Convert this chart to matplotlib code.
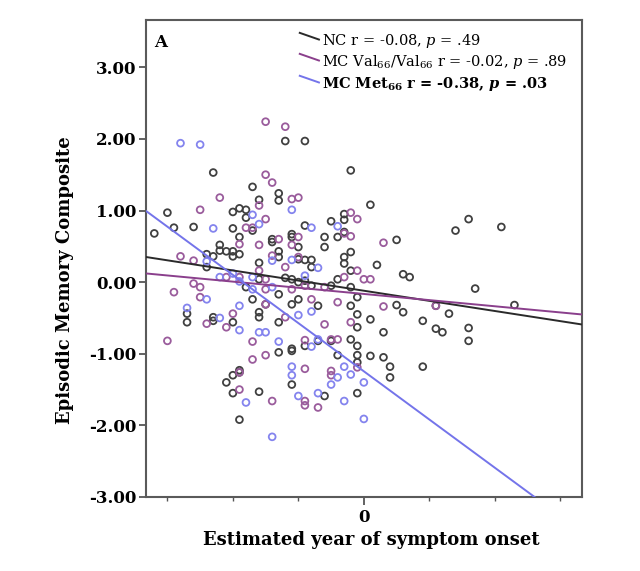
import matplotlib
matplotlib.use("Agg")
import matplotlib.pyplot as plt
import numpy as np
from matplotlib.lines import Line2D

# ---------------- data ----------------
nc_x = [-11.5, -8.5, -15.0, -10.0, -9.5, -9.0, -9.0, -14.5, -13.0, -10.0, -6.0, -4.5, -1.0,
        -6.5, -6.5, -8.0, 0.5, -1.5, -1.5, -2.5, -4.5, -8.5, -7.0, -7.0, -5.5, -5.5, -3.0, -2.0,
        -5.0, -3.0, -1.0, -6.5, -6.5, -1.5, -4.5, -4.0, -1.5, -4.0, -1.0, -8.0, -6.0, -5.5, -5.0,
        -4.0, -2.0, -2.5, -1.0, -6.5, -8.5, -7.5, -5.5, -5.0, -3.5, -0.5, -1.0, -8.0, -8.0, -0.5,
        -6.5, -0.5, -1.0, -16.0, -9.5, -11.0, -11.0, -10.5, -10.0, -10.0, -9.5, -12.0, -11.5,
        -12.0, -9.0, -13.5, -13.5, -11.5, -11.5, -10.0, -9.5, -9.5, -10.0, -10.5, -10.0, -9.5,
        -6.5, -5.5, -5.5, -4.5, -3.5, -2.5, -2.0, -0.5, -0.5, -0.5, -5.5, -8.0, -3.0, -0.5,
        2.5, 1.0, 3.0, 3.5, 7.0, 8.0, 10.5, 8.5, 11.5, 2.5, 3.0, 0.5, 1.5, 4.5, 5.5, 6.5, 5.5,
        6.0, 8.0, 8.0, 0.5, 1.5, 2.0, 2.0, 4.5, -1.5, -5.0, -4.5, -8.0]
nc_y = [1.53, 1.33, 0.97, 0.98, 1.03, 1.01, 0.90, 0.76, 0.77, 0.75, 1.97, 1.97, 1.56,
        1.24, 1.14, 1.15, 1.08, 0.95, 0.87, 0.85, 0.79, 0.72, 0.60, 0.56, 0.67, 0.63, 0.63, 0.63,
        0.49, 0.49, 0.42, 0.43, 0.35, 0.35, 0.31, 0.31, 0.26, 0.21, 0.16, 0.04, 0.06, 0.04, 0.00,
        -0.05, 0.04, -0.05, -0.07, -0.17, -0.24, -0.31, -0.31, -0.24, -0.33, -0.21, -0.33, -0.42, -0.49, -0.45,
        -0.56, -0.63, -0.80, 0.68, 0.63, 0.52, 0.44, 0.43, 0.43, 0.36, 0.39, 0.39, 0.36,
        0.21, -0.07, -0.44, -0.56, -0.49, -0.54, -0.56, -1.23, -1.26, -1.30, -1.40, -1.55, -1.92,
        -0.98, -0.93, -0.96, -0.89, -0.82, -0.82, -1.02, -0.89, -1.02, -1.12, -1.43, -1.53, -1.59, -1.55,
        0.59, 0.24, 0.11, 0.07, 0.72, 0.88, 0.77, -0.09, -0.32, -0.32, -0.42, -0.52, -0.70, -0.54, -0.33, -0.44, -0.65,
        -0.70, -0.64, -0.82, -1.03, -1.05, -1.18, -1.33, -1.18, 0.70, 0.32, 0.02, 0.27]

vv_x = [-7.5, -6.0, -11.0, -12.5, -7.5, -7.0, -5.5, -5.0, -8.0, -1.0, -0.5, -7.5, -9.0, -8.5,
        -6.5, -5.0, -1.5, -1.0, -8.0, -5.5, -7.0, -5.0, -6.0, -8.0, -0.5, 0.0, -7.5, -1.5, -4.5,
        -7.5, -5.5, -7.5, -2.0, -4.0, -6.0, -3.0, -1.0, -4.5, -2.5, -2.0, -14.0, -13.0, -10.5,
        -9.5, -13.0, -12.5, -14.5, -12.5, -12.0, -10.5, -10.0, -15.0, -8.5, -8.5, -9.5, -9.5,
        -7.5, -4.5, -2.5, -2.5, -0.5, -7.0, -4.5, -4.5, -3.5, 1.5, 0.5, 1.5, 5.5, -9.5, -3.0]
vv_y = [2.24, 2.17, 1.18, 1.01, 1.50, 1.39, 1.16, 1.18, 1.07, 0.97, 0.88, 0.88, 0.76, 0.76,
        0.60, 0.63, 0.68, 0.64, 0.52, 0.52, 0.37, 0.35, 0.21, 0.16, 0.16, 0.04, 0.04, 0.07, -0.05,
        -0.10, -0.10, -0.31, -0.28, -0.24, -0.49, -0.59, -0.56, -0.81, -0.80, -0.80, 0.36, 0.30, 0.07,
        0.07, -0.02, -0.07, -0.14, -0.21, -0.58, -0.63, -0.44, -0.82, -0.83, -1.08, -1.26, -1.50,
        -1.02, -1.21, -1.24, -1.30, -1.19, -1.66, -1.66, -1.72, -1.75, 0.55, 0.04, -0.34, -0.33, 0.53, -0.07]

met_x = [-14.0, -12.5, -5.5, -8.5, -8.0, -11.5, -4.0, -2.0, -7.0, -5.5, -3.5, -8.5, -4.5, -8.5,
         -7.0, -5.0, -4.0, -8.0, -7.5, -3.5, -11.0, -10.0, -12.0, -13.5, -11.0, -9.5, -9.5, -9.0,
         -6.5, -4.0, -5.5, -5.5, -2.0, -1.5, -1.0, -2.5, 0.0, -5.0, -3.5, -1.5, 0.0, -7.0, -12.0, -9.5]
met_y = [1.94, 1.92, 1.01, 0.94, 0.81, 0.75, 0.76, 0.78, 0.30, 0.31, 0.20, 0.07, 0.09, -0.10,
         -0.07, -0.46, -0.41, -0.70, -0.70, -0.80, 0.07, 0.12, -0.24, -0.36, -0.50, -0.33, -0.67, -1.68,
         -0.83, -0.90, -1.18, -1.30, -1.33, -1.18, -1.29, -1.43, -1.40, -1.59, -1.55, -1.66, -1.91, -2.16, 0.29, 0.01]

# fitted regression lines: (intercept, slope)
fit_nc = (-0.12, -0.0283)
fit_vv = (-0.165, -0.0172)
fit_met = (-1.245, -0.1346)

legend_labels = [r"NC r = -0.08, $p$ = .49",
                 r"MC Val$_{66}$/Val$_{66}$ r = -0.02, $p$ = .89",
                 r"MC Met$_{\mathbf{66}}$ r = -0.38, $\mathbfit{p}$ = .03"]

y_ticks = [3, 2, 1, 0, -1, -2, -3]
y_ticklabels = ["3.00", "2.00", "1.00", "0.00", "-1.00", "-2.00", "-3.00"]

# ---------------- style ----------------
plt.rcParams['font.family'] = ['DejaVu Serif', 'DejaVu Sans']
plt.rcParams['mathtext.fontset'] = 'custom'
plt.rcParams['mathtext.rm'] = 'DejaVu Serif'
plt.rcParams['mathtext.it'] = 'DejaVu Serif:italic'
plt.rcParams['mathtext.bf'] = 'DejaVu Serif:bold'
try:
    plt.rcParams['mathtext.bfit'] = 'DejaVu Serif:italic:bold'
except Exception:
    pass

c_nc, c_vv, c_met = '#404040', '#9a5c9c', '#8484ee'
l_nc, l_vv, l_met = '#2a2a2a', '#8a3f8c', '#7474ea'

fig = plt.figure(figsize=(6.4, 5.71), dpi=100)
ax = fig.add_axes([0.228, 0.1296, 0.681, 0.8354])

xlim = (-16.64, 16.64)
ylim = (-3.0, 3.66)

ms = 24
ax.scatter(nc_x, nc_y, s=ms, facecolors='none', edgecolors=c_nc, linewidths=1.3, zorder=3)
ax.scatter(vv_x, vv_y, s=ms, facecolors='none', edgecolors=c_vv, linewidths=1.3, zorder=3)
ax.scatter(met_x, met_y, s=ms, facecolors='none', edgecolors=c_met, linewidths=1.3, zorder=3)

xs = np.linspace(xlim[0], xlim[1], 200)
for (b, m), col in [(fit_nc, l_nc), (fit_vv, l_vv), (fit_met, l_met)]:
    ax.plot(xs, b + m * xs, color=col, lw=1.4, zorder=4)

ax.set_xlim(*xlim)
ax.set_ylim(*ylim)

ax.set_yticks(y_ticks)
ax.set_yticklabels(y_ticklabels, fontsize=12, fontweight='bold')
ax.set_xticks([0])
ax.set_xticklabels(["0"], fontsize=12, fontweight='bold')
ax.set_xticks([-15, -10, -5, 5, 10, 15], minor=True)
ax.tick_params(axis='y', direction='out', length=5, width=1.3, color='#555555', pad=2)
ax.tick_params(axis='x', which='major', direction='out', length=6, width=1.3, color='#555555', pad=3)
ax.tick_params(axis='x', which='minor', direction='out', length=3, width=1.0, color='#555555')

for sp in ax.spines.values():
    sp.set_color('#5a5a5a')
    sp.set_linewidth(1.5)

ax.set_xlabel("Estimated year of symptom onset", fontsize=13, fontweight='bold')
ax.xaxis.set_label_coords(0.516, -0.072)
ax.set_ylabel("Episodic Memory Composite", fontsize=13, fontweight='bold')
ax.yaxis.set_label_coords(-0.165, 0.455)

ax.text(0.018, 0.952, "A", transform=ax.transAxes, fontsize=12, fontweight='bold',
        ha='left', va='center')

rows = [0.956, 0.912, 0.866]
cols = [l_nc, l_vv, l_met]
for i, (lab, yy, col) in enumerate(zip(legend_labels, rows, cols)):
    ax.add_line(Line2D([0.353, 0.397], [yy + 0.017, yy + 0.003], transform=ax.transAxes,
                       color=col, lw=1.4))
    ax.text(0.404, yy, lab, transform=ax.transAxes, fontsize=10.5,
            fontweight='bold' if i == 2 else 'normal', ha='left', va='center')

fig.savefig("out.png", dpi=100)
